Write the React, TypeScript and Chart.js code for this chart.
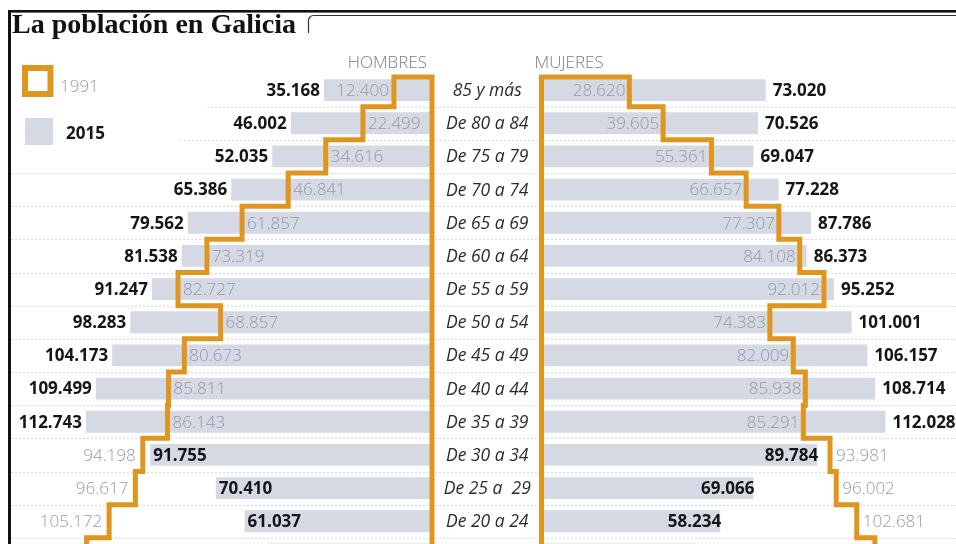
import { useEffect, useRef } from "react";
import { Chart, registerables } from "chart.js";

Chart.register(...registerables);

// ---------- data ----------
const chartTitle = "La población en Galicia";
const sideTitles = ["HOMBRES", "MUJERES"];
const legendYears = ["1991", "2015"];
const ageGroups = [
  "85 y más",
  "De 80 a 84",
  "De 75 a 79",
  "De 70 a 74",
  "De 65 a 69",
  "De 60 a 64",
  "De 55 a 59",
  "De 50 a 54",
  "De 45 a 49",
  "De 40 a 44",
  "De 35 a 39",
  "De 30 a 34",
  "De 25 a  29",
  "De 20 a 24",
  "De 15 a 19",
];
const men2015 = [35168, 46002, 52035, 65386, 79562, 81538, 91247, 98283, 104173, 109499, 112743, 91755, 70410, 61037, 53700];
const men1991 = [12400, 22499, 34616, 46841, 61857, 73319, 82727, 68857, 80673, 85811, 86143, 94198, 96617, 105172, 112500];
const women2015 = [73020, 70526, 69047, 77228, 87786, 86373, 95252, 101001, 106157, 108714, 112028, 89784, 69066, 58234, 50300];
const women1991 = [28620, 39605, 55361, 66657, 77307, 84108, 92012, 74383, 82009, 85938, 85291, 93981, 96002, 102681, 108600];
// the last group is cut by the bottom of the picture: its labels are not shown
const labeledRows = 14;

// ---------- styles ----------
const W = 956;
const H = 571;
const PX_PER_PERSON = 3.07 / 1000;
const ZERO_L = 432;
const ZERO_R = 541.5;
const RANGE = W / PX_PER_PERSON;

const BAR = "#d5d9e3";
const ORANGE = "#e0951f";
const GRAY_TXT = "#949aab";
const DARK_TXT = "#151515";
const AGE_TXT = "#2b2b2b";
const HEAD_TXT = "#7d7d7d";
const DASH = "#dadada";
const FONT = '"Open Sans", "Noto Sans", sans-serif';
const F_BOLD = `700 17px ${FONT}`;
const F_LIGHT = `300 17px ${FONT}`;
const F_AGE = `italic 400 17.5px ${FONT}`;
const F_TITLE = `700 28px "Liberation Serif", "DejaVu Serif", serif`;

const fmt = (v: number) => String(v).replace(/\B(?=(\d{3})+(?!\d))/g, ".");

function txt(ctx: any, s: string, x: number, y: number, font: string, color: string, align: string, base = "middle") {
  ctx.font = font;
  ctx.fillStyle = color;
  ctx.textAlign = align;
  ctx.textBaseline = base;
  ctx.fillText(s, x, y);
}

const pyramidPlugin = {
  id: "pyramid",
  beforeDatasetsDraw(chart: any) {
    const { ctx } = chart;
    const ys = chart.scales.y;
    const step = ys.getPixelForValue(1) - ys.getPixelForValue(0);
    ctx.save();
    ctx.strokeStyle = DASH;
    ctx.lineWidth = 1;
    ctx.setLineDash([2, 2]);
    ageGroups.forEach((_, i) => {
      const yy = Math.round(ys.getPixelForValue(i) + step / 2) + 0.5;
      const start = i === 0 ? 207 : i === 1 ? 180 : 11;
      ctx.beginPath();
      ctx.moveTo(start, yy);
      ctx.lineTo(chart.width, yy);
      ctx.stroke();
    });
    ctx.restore();
  },
  afterDatasetsDraw(chart: any) {
    const { ctx } = chart;
    const ys = chart.scales.y;
    const xL = chart.scales.xL;
    const xR = chart.scales.xR;
    const step = ys.getPixelForValue(1) - ys.getPixelForValue(0);
    const zL = xL.getPixelForValue(0);
    const zR = xR.getPixelForValue(0);
    ctx.save();

    // value labels
    for (let i = 0; i < labeledRows; i++) {
      const yc = ys.getPixelForValue(i) + 1;
      // men
      const mb = xL.getPixelForValue(men2015[i]);
      const mo = xL.getPixelForValue(men1991[i]);
      if (men1991[i] <= men2015[i]) {
        txt(ctx, fmt(men2015[i]), mb - 4, yc, F_BOLD, DARK_TXT, "right");
        ctx.font = F_LIGHT;
        const w = ctx.measureText(fmt(men1991[i])).width;
        if (mo + 5 + w <= zL - 2) txt(ctx, fmt(men1991[i]), mo + 5, yc, F_LIGHT, GRAY_TXT, "left");
        else txt(ctx, fmt(men1991[i]), mo - 5, yc, F_LIGHT, GRAY_TXT, "right");
      } else {
        txt(ctx, fmt(men1991[i]), mo - 7, yc, F_LIGHT, GRAY_TXT, "right");
        txt(ctx, fmt(men2015[i]), mb + 3, yc, F_BOLD, DARK_TXT, "left");
      }
      // women
      const wb = xR.getPixelForValue(women2015[i]);
      const wo = xR.getPixelForValue(women1991[i]);
      if (women1991[i] <= women2015[i]) {
        txt(ctx, fmt(women1991[i]), wo - 4, yc, F_LIGHT, GRAY_TXT, "right");
        txt(ctx, fmt(women2015[i]), wb + 7, yc, F_BOLD, DARK_TXT, "left");
      } else {
        txt(ctx, fmt(women2015[i]), wb + 1, yc, F_BOLD, DARK_TXT, "right");
        txt(ctx, fmt(women1991[i]), wo + 6, yc, F_LIGHT, GRAY_TXT, "left");
      }
      // age group
      txt(ctx, ageGroups[i], (zL + zR) / 2 + 0.5, yc, F_AGE, AGE_TXT, "center");
    }

    // 1991 outlines
    const bottom = chart.height + 10;
    const top = ys.getPixelForValue(0) - step / 2 + 3.5;
    ctx.strokeStyle = ORANGE;
    ctx.lineWidth = 5;
    ctx.lineJoin = "miter";
    ctx.lineCap = "butt";
    ([[xL, men1991], [xR, women1991]] as any[]).forEach(([xs, vals]) => {
      const z = xs.getPixelForValue(0);
      ctx.beginPath();
      ctx.moveTo(z, bottom);
      ctx.lineTo(z, top);
      vals.forEach((v: number, i: number) => {
        const x = xs.getPixelForValue(v);
        ctx.lineTo(x, i === 0 ? top : ys.getPixelForValue(i) - step / 2);
        ctx.lineTo(x, i === vals.length - 1 ? bottom : ys.getPixelForValue(i) + step / 2);
      });
      ctx.stroke();
    });
    ctx.restore();
  },
  afterDraw(chart: any) {
    const { ctx } = chart;
    const zL = chart.scales.xL.getPixelForValue(0);
    const zR = chart.scales.xR.getPixelForValue(0);
    ctx.save();
    // frame
    ctx.fillStyle = "#111";
    ctx.fillRect(8, 10, W - 8, 2.6);
    ctx.fillRect(8, 10, 3, chart.height);
    // bracket after the title
    ctx.strokeStyle = "#333";
    ctx.lineWidth = 1.2;
    ctx.beginPath();
    ctx.moveTo(308.5, 33);
    ctx.lineTo(308.5, 20);
    ctx.arcTo(308.5, 15.5, 314, 15.5, 5);
    ctx.lineTo(W, 15.5);
    ctx.stroke();
    // title
    txt(ctx, chartTitle, 12, 33, F_TITLE, "#111", "left", "alphabetic");
    // side headers
    txt(ctx, sideTitles[0], zL - 5, 68, F_LIGHT, HEAD_TXT, "right", "alphabetic");
    txt(ctx, sideTitles[1], zR - 7, 68, F_LIGHT, HEAD_TXT, "left", "alphabetic");
    // legend
    ctx.strokeStyle = ORANGE;
    ctx.lineWidth = 6;
    ctx.strokeRect(25, 68, 25.5, 26);
    txt(ctx, legendYears[0], 60, 87, F_LIGHT, GRAY_TXT, "left");
    ctx.fillStyle = BAR;
    ctx.fillRect(25, 118, 28, 27);
    txt(ctx, legendYears[1], 66, 134, F_BOLD, DARK_TXT, "left");
    ctx.restore();
  },
};

export default function App() {
  const ref = useRef<HTMLCanvasElement | null>(null);
  useEffect(() => {
    if (!ref.current) return;
    let alive = true;
    const chart = new Chart(ref.current, {
      type: "bar",
      data: {
        labels: ageGroups,
        datasets: [
          {
            label: "Hombres 2015",
            data: men2015,
            xAxisID: "xL",
            backgroundColor: BAR,
            grouped: false,
            barPercentage: 0.66,
            categoryPercentage: 1,
            borderWidth: 0,
          },
          {
            label: "Mujeres 2015",
            data: women2015,
            xAxisID: "xR",
            backgroundColor: BAR,
            grouped: false,
            barPercentage: 0.66,
            categoryPercentage: 1,
            borderWidth: 0,
          },
        ],
      } as any,
      options: {
        indexAxis: "y",
        responsive: false,
        animation: false,
        events: [],
        layout: { padding: { top: 73.5, bottom: 0, left: 0, right: 0 } },
        plugins: {
          legend: { display: false },
          tooltip: { enabled: false },
          title: { display: false },
        },
        scales: {
          y: { type: "category", display: false, offset: true },
          xL: {
            type: "linear",
            axis: "x",
            display: false,
            reverse: true,
            bounds: "data",
            max: ZERO_L / PX_PER_PERSON,
            min: ZERO_L / PX_PER_PERSON - RANGE,
          },
          xR: {
            type: "linear",
            axis: "x",
            display: false,
            bounds: "data",
            min: -ZERO_R / PX_PER_PERSON,
            max: -ZERO_R / PX_PER_PERSON + RANGE,
          },
        },
      } as any,
      plugins: [pyramidPlugin],
    });
    const fonts = [F_BOLD, F_LIGHT, F_AGE, F_TITLE];
    Promise.all(fonts.map((f) => (document as any).fonts.load(f)))
      .then(() => {
        if (alive) chart.draw();
      })
      .catch(() => {});
    return () => {
      alive = false;
      chart.destroy();
    };
  }, []);
  return (
    <div
      style={{
        position: "fixed",
        left: 0,
        top: 0,
        width: W,
        height: 544,
        overflow: "hidden",
        background: "#fff",
      }}
    >
      <canvas ref={ref} width={W} height={H} style={{ display: "block" }} />
    </div>
  );
}
